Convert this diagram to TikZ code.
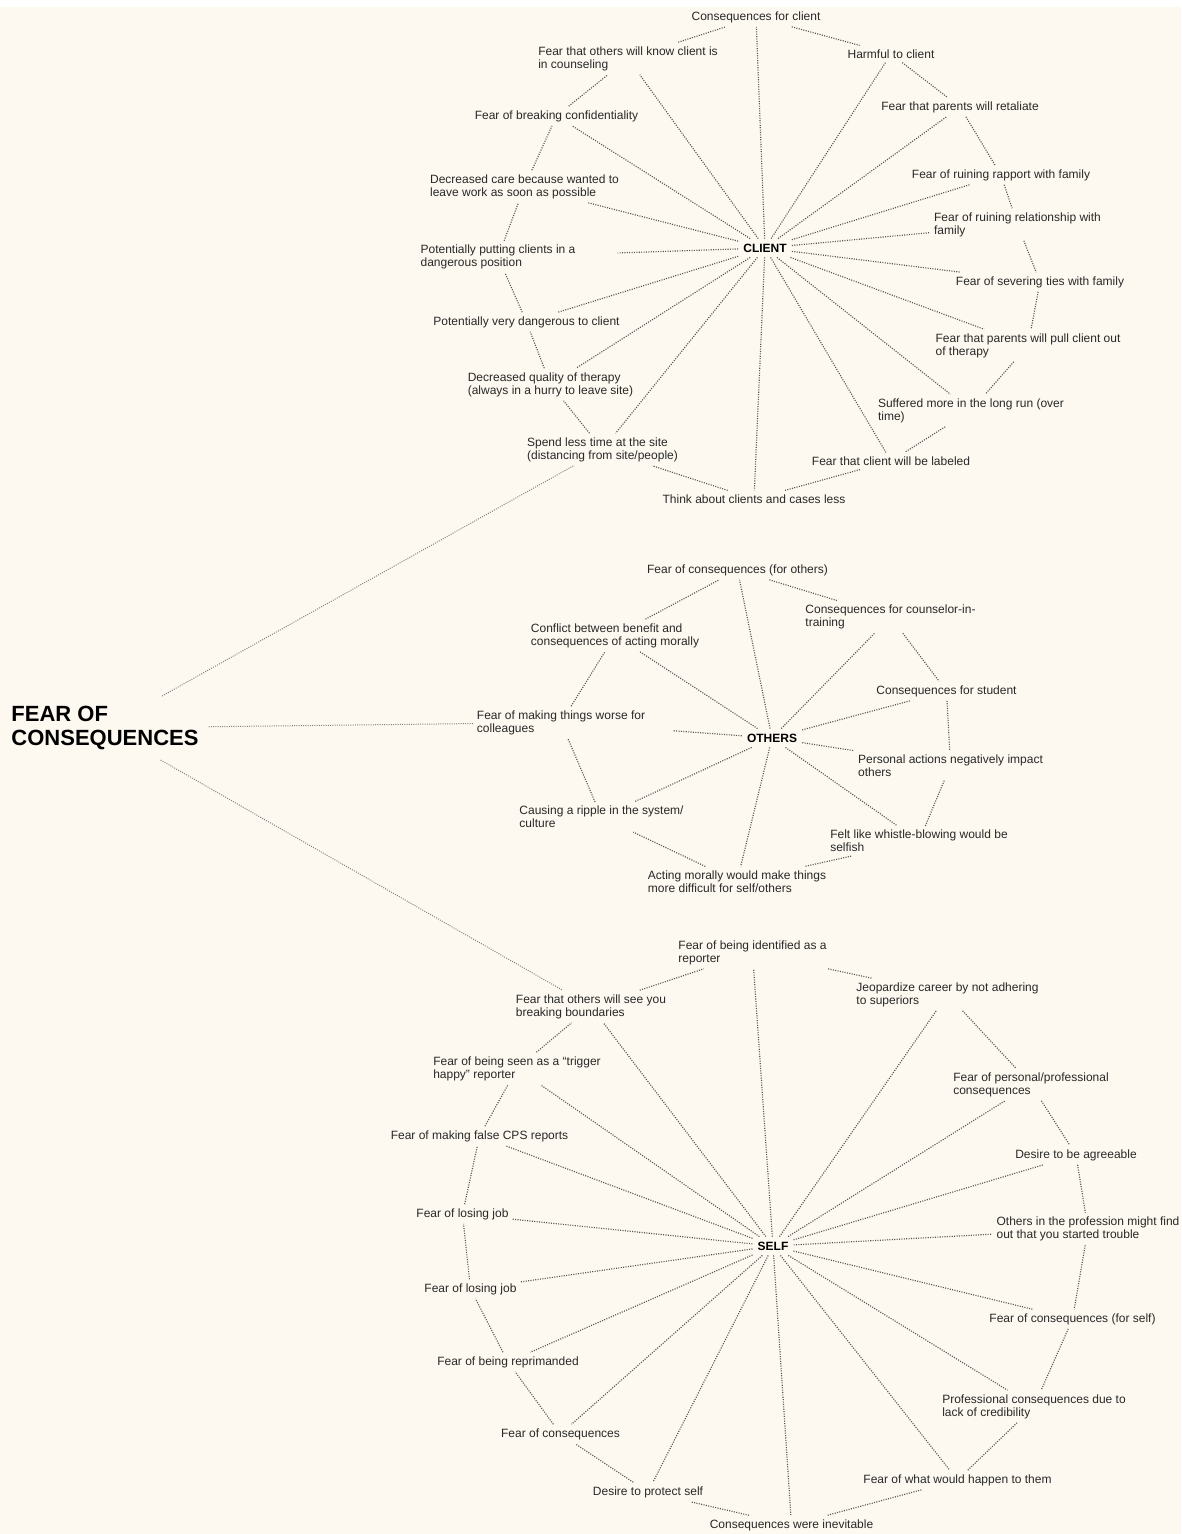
\documentclass[tikz,border=0pt]{standalone}
\usepackage{fontspec}
\setmainfont{Liberation Sans}
\definecolor{paper}{RGB}{253,249,240}
\definecolor{ink}{RGB}{40,40,40}
\definecolor{dots}{RGB}{85,85,85}
\tikzset{
  lbl/.style={font=\fontsize{12}{13}\selectfont, align=left, inner sep=4pt, text=ink},
  hub/.style={font=\fontsize{12}{13}\selectfont\bfseries, inner sep=5pt, text=black},
  rootlbl/.style={font=\fontsize{22}{24}\selectfont\bfseries, align=left, inner sep=10pt, text=black},
  link/.style={draw=dots, line width=1.15pt, dash pattern=on 1.05pt off 1.35pt},
  rootlink/.style={draw=dots!75, line width=1pt, dash pattern=on 0.95pt off 1.3pt},
}
\begin{document}
\begin{tikzpicture}[x=1pt,y=-1pt]
\fill[paper] (0,0) rectangle (1181,1534);
\fill[white] (0,0) rectangle (1181,7);
\useasboundingbox (0,0) rectangle (1181,1534);

% ---------- root ----------
\node[rootlbl] (root) at (105,728) {FEAR OF\\CONSEQUENCES};

% ---------- client cluster ----------
\node[hub] (client) at (765,248) {CLIENT};
\node[lbl] (c1)  at (756,17)    {Consequences for client};
\node[lbl] (c2)  at (891,54)    {Harmful to client};
\node[lbl] (c3)  at (960,107)   {Fear that parents will retaliate};
\node[lbl] (c4)  at (1001,175)  {Fear of ruining rapport with family};
\node[lbl] (c5)  at (1017.5,224.5) {Fear of ruining relationship with\\family};
\node[lbl] (c6)  at (1040,282)  {Fear of severing ties with family};
\node[lbl] (c7)  at (1028,345.5) {Fear that parents will pull client out\\of therapy};
\node[lbl] (c8)  at (971,410.5) {Suffered more in the long run (over\\time)};
\node[lbl] (c9)  at (891,461)   {Fear that client will be labeled};
\node[lbl] (c10) at (754,499)   {Think about clients and cases less};
\node[lbl] (c11) at (602.5,449.5) {Spend less time at the site\\(distancing from site/people)};
\node[lbl] (c12) at (550.5,384.5) {Decreased quality of therapy\\(always in a hurry to leave site)};
\node[lbl] (c13) at (526.5,322) {Potentially very dangerous to client};
\node[lbl] (c14) at (498,257)   {Potentially putting clients in a\\dangerous position};
\node[lbl] (c15) at (524.5,186.5) {Decreased care because wanted to\\leave work as soon as possible};
\node[lbl] (c16) at (556.5,116) {Fear of breaking confidentiality};
\node[lbl] (c17) at (628,58.5)  {Fear that others will know client is\\in counseling};

% ---------- others cluster ----------
\node[hub] (others) at (772,738) {OTHERS};
\node[lbl] (o1) at (737.5,570)  {Fear of consequences (for others)};
\node[lbl] (o2) at (890.5,617)  {Consequences for counselor-in-\\training};
\node[lbl] (o3) at (946.5,691)  {Consequences for student};
\node[lbl] (o4) at (950.5,765.5) {Personal actions negatively impact\\others};
\node[lbl] (o5) at (919,841)    {Felt like whistle-blowing would be\\selfish};
\node[lbl] (o6) at (737,881.5)  {Acting morally would make things\\more difficult for self/others};
\node[lbl] (o7) at (601.5,817)  {Causing a ripple in the system/\\culture};
\node[lbl] (o8) at (561,722.5)  {Fear of making things worse for\\colleagues};
\node[lbl] (o9) at (615,635.5)  {Conflict between benefit and\\consequences of acting morally};

% ---------- self cluster ----------
\node[hub] (self) at (773,1246) {SELF};
\node[lbl] (s1)  at (752.5,952.5) {Fear of being identified as a\\reporter};
\node[lbl] (s2)  at (947.5,994.5) {Jeopardize career by not adhering\\to superiors};
\node[lbl] (s3)  at (1031,1084.5) {Fear of personal/professional\\consequences};
\node[lbl] (s4)  at (1076,1155)   {Desire to be agreeable};
\node[lbl] (s5)  at (1088,1229)   {Others in the profession might find\\out that you started trouble};
\node[lbl] (s6)  at (1072.5,1319) {Fear of consequences (for self)};
\node[lbl] (s7)  at (1034,1406.5) {Professional consequences due to\\lack of credibility};
\node[lbl] (s8)  at (957.5,1480)  {Fear of what would happen to them};
\node[lbl] (s9)  at (791.5,1525)  {Consequences were inevitable};
\node[lbl] (s10) at (648,1492)    {Desire to protect self};
\node[lbl] (s11) at (560.5,1434)  {Fear of consequences};
\node[lbl] (s12) at (508,1362)    {Fear of being reprimanded};
\node[lbl] (s13) at (470.5,1289)  {Fear of losing job};
\node[lbl] (s14) at (462.5,1214)  {Fear of losing job};
\node[lbl] (s15) at (479.5,1136)  {Fear of making false CPS reports};
\node[lbl] (s16) at (517,1068.5)  {Fear of being seen as a “trigger\\happy” reporter};
\node[lbl] (s17) at (591,1006.5)  {Fear that others will see you\\breaking boundaries};

% ---------- root branches ----------
\draw[rootlink] (root) -- (c11);
\draw[rootlink] (root) -- (o8);
\draw[rootlink] (root) -- (s17);

% ---------- client: spokes and ring ----------
\foreach \i in {1,...,13,15,16,17} \draw[link] (client) -- (c\i);
\draw[link, shorten >=38pt] (client) -- (c14);
\foreach \i [evaluate=\i as \j using {int(mod(\i,17)+1)}] in {1,...,17}
  \draw[link] (c\i) -- (c\j);

% ---------- others: spokes and ring ----------
\foreach \i in {1,...,7,9} \draw[link] (others) -- (o\i);
\draw[link, shorten >=24pt] (others) -- (o8);
\foreach \i [evaluate=\i as \j using {int(mod(\i,9)+1)}] in {1,...,9}
  \draw[link] (o\i) -- (o\j);

% ---------- self: spokes and ring ----------
\foreach \i in {1,...,17} \draw[link] (self) -- (s\i);
\foreach \i [evaluate=\i as \j using {int(mod(\i,17)+1)}] in {1,...,17}
  \draw[link] (s\i) -- (s\j);
\end{tikzpicture}
\end{document}
